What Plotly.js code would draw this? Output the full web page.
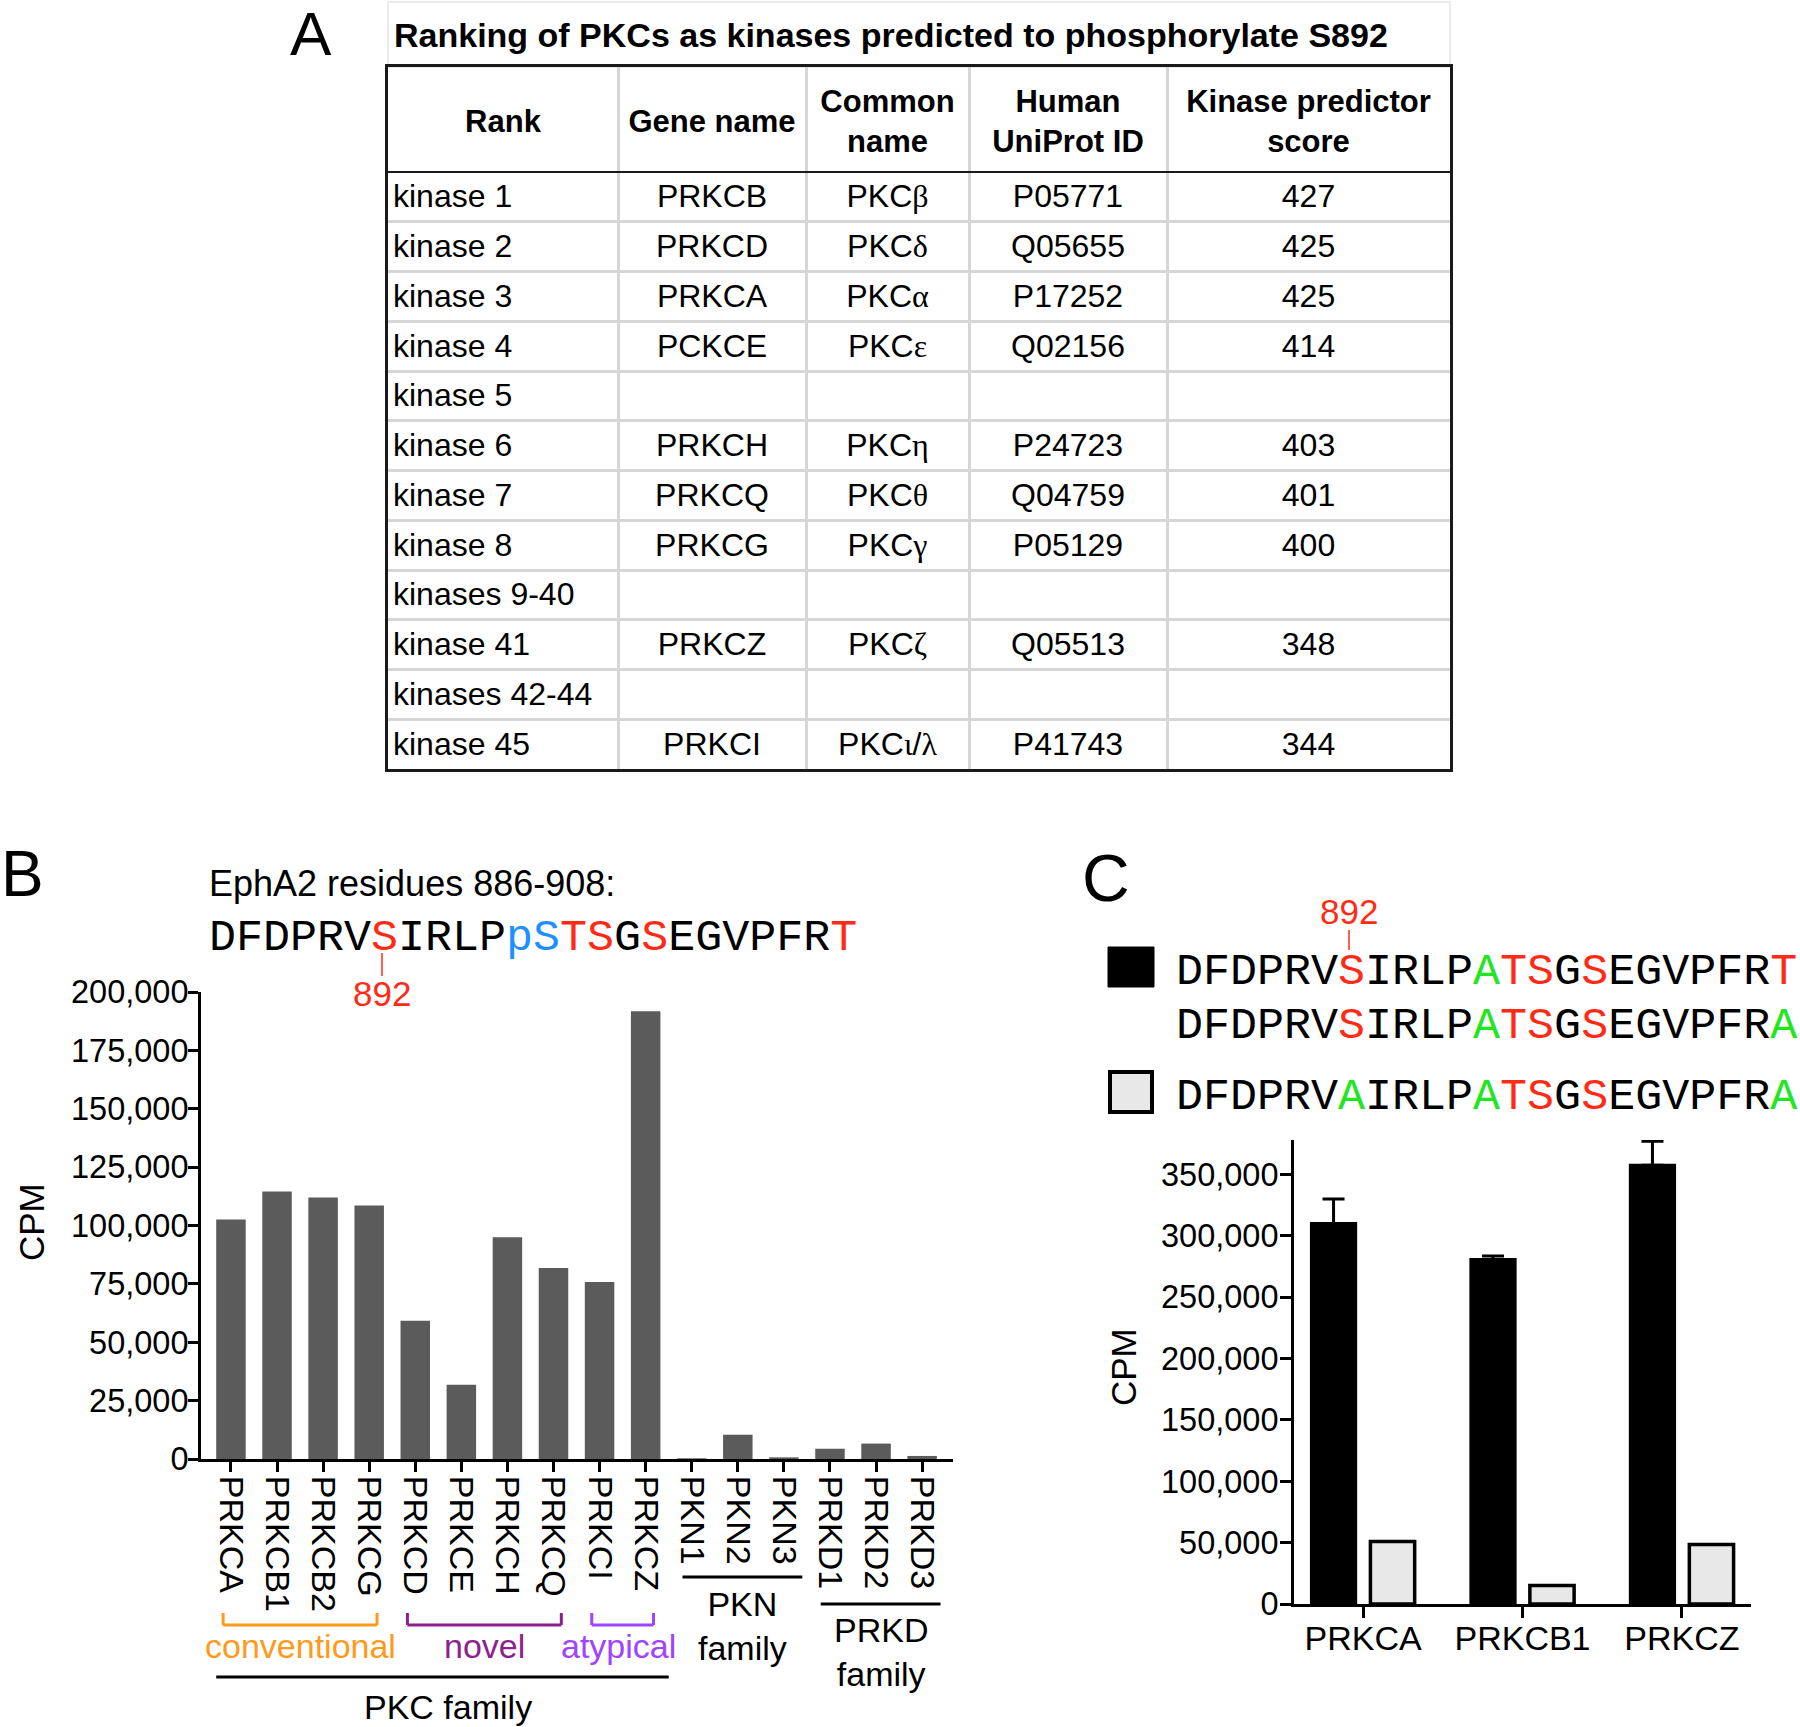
<!DOCTYPE html>
<html><head><meta charset="utf-8">
<script src="https://cdn.plot.ly/plotly-3.0.1.min.js"></script>
<style>html,body{margin:0;padding:0;background:#fff}</style>
</head><body><div id="chart" style="width:1800px;height:1727px"></div>
<script>
// ---------------- DATA ----------------
const tableTitle = 'Ranking of PKCs as kinases predicted to phosphorylate S892';
const tableHeader = ['Rank', 'Gene name', 'Common<br>name', 'Human<br>UniProt ID', 'Kinase predictor<br>score'];
const rankCol = ['kinase 1','kinase 2','kinase 3','kinase 4','kinase 5','kinase 6','kinase 7','kinase 8','kinases 9-40','kinase 41','kinases 42-44','kinase 45'];
const geneCol = ['PRKCB','PRKCD','PRKCA','PCKCE','','PRKCH','PRKCQ','PRKCG','','PRKCZ','','PRKCI'];
const commonCol = ['PKCβ','PKCδ','PKCα','PKCε','','PKCη','PKCθ','PKCγ','','PKCζ','','PKCι/λ'];
const uniprotCol = ['P05771','Q05655','P17252','Q02156','','P24723','Q04759','P05129','','Q05513','','P41743'];
const scoreCol = ['427','425','425','414','','403','401','400','','348','','344'];

const kinasesB = ['PRKCA','PRKCB1','PRKCB2','PRKCG','PRKCD','PRKCE','PRKCH','PRKCQ','PRKCI','PRKCZ','PKN1','PKN2','PKN3','PRKD1','PRKD2','PRKD3'];
const cpmB = [102600,114600,112000,108600,59200,31800,95000,81800,75800,191800,300,10400,700,4400,6600,1300];
const yTicksB = [0,25000,50000,75000,100000,125000,150000,175000,200000];

const kinasesC = ['PRKCA','PRKCB1','PRKCZ'];
const cpmWT = [310000,280600,357500];
const errWT = [20000,2800,19500];
const cpmMut = [51000,15000,48500];
const yTicksC = [0,50000,100000,150000,200000,250000,300000,350000];

const subgroupNames = ['conventional','novel','atypical'];
const subgroupFirst = ['PRKCA','PRKCD','PRKCI'];
const subgroupLast  = ['PRKCG','PRKCQ','PRKCZ'];
const familyNames = ['PKC family','PKN<br>family','PRKD<br>family'];
const familyFirst = ['PRKCA','PKN1','PRKD1'];
const familyLast  = ['PRKCZ','PKN3','PRKD3'];

const seqTitleB = 'EphA2 residues 886-908:';
const seqB   = [['DFDPRV','k'],['S','r'],['IRLP','k'],['pS','b'],['TS','r'],['G','k'],['S','r'],['EGVPFR','k'],['T','r']];
const seqC1  = [['DFDPRV','k'],['S','r'],['IRLP','k'],['A','g'],['TS','r'],['G','k'],['S','r'],['EGVPFR','k'],['T','r']];
const seqC2  = [['DFDPRV','k'],['S','r'],['IRLP','k'],['A','g'],['TS','r'],['G','k'],['S','r'],['EGVPFR','k'],['A','g']];
const seqC3  = [['DFDPRV','k'],['A','g'],['IRLP','k'],['A','g'],['TS','r'],['G','k'],['S','r'],['EGVPFR','k'],['A','g']];
const siteLabel = '892';

// ---------------- STYLE ----------------
const W = 1800, H = 1727;
const SANS = 'Arial, "Liberation Sans", sans-serif';
const MONO = '"Courier New", "Liberation Mono", monospace';
const COL = {k:'#000000', r:'#ff2b16', b:'#1e90ff', g:'#22e622'};
const subgroupColors = ['#ff9a1c','#8e1f8e','#a044ff'];
const PX = x => x / W;
const PY = y => 1 - y / H;

function seqHTML(parts){
  return parts.map(([s,c]) => c === 'k' ? s : `<span style="color:${COL[c]}">${s}</span>`).join('');
}
function greek(t){
  return t.replace(/([\u0370-\u03ff]+)/g, '<span style="font-family:Liberation Serif">$1</span>');
}
function ann(text, x, y, o){
  return Object.assign({text, x:PX(x), y:PY(y), xref:'paper', yref:'paper', showarrow:false,
    xanchor:'center', yanchor:'middle', font:{family:SANS, size:34, color:'#000'}}, o || {});
}

// table geometry (in table-axis units = px)
const colEdges = [0, 230, 418, 581, 779, 1062];
const colCenters = colEdges.slice(0,-1).map((e,i) => (e + colEdges[i+1]) / 2);
const headerRows = 105 / 49.75;
const rowIdx = rankCol.map((_, i) => i + 0.55);

const traces = [];
// Panel A table cells
const tf = {family:SANS, size:32, color:'#000'};
traces.push({type:'scatter', mode:'text', xaxis:'x3', yaxis:'y3', hoverinfo:'skip',
  x: colCenters, y: colCenters.map(() => -headerRows/2 + 0.1), text: tableHeader,
  textposition:'middle center', textfont:{family:SANS, size:31, color:'#000', weight:'bold'}});
traces.push({type:'scatter', mode:'text', xaxis:'x3', yaxis:'y3', hoverinfo:'skip',
  x: rankCol.map(() => 5), y: rowIdx, text: rankCol, textposition:'middle right', textfont:tf});
[geneCol, commonCol.map(greek), uniprotCol, scoreCol].forEach((col, k) => {
  traces.push({type:'scatter', mode:'text', xaxis:'x3', yaxis:'y3', hoverinfo:'skip',
    x: col.map(() => colCenters[k+1]), y: rowIdx, text: col, textposition:'middle center', textfont:tf});
});

// Panel B bars
traces.push({type:'bar', x: kinasesB, y: cpmB, xaxis:'x', yaxis:'y', width:0.64,
  marker:{color:'#5b5b5b', line:{width:0}}, hoverinfo:'x+y'});

// Panel C bars
traces.push({type:'bar', name:'wild type', x: kinasesC, y: cpmWT, xaxis:'x2', yaxis:'y2',
  marker:{color:'#000', line:{color:'#000', width:3}},
  error_y:{type:'data', array: errWT, arrayminus: errWT.map(() => 0), symmetric:false, color:'#000', thickness:3, width:11}});
traces.push({type:'bar', name:'S892A', x: kinasesC, y: cpmMut, xaxis:'x2', yaxis:'y2',
  marker:{color:'#e8e8e8', line:{color:'#000', width:3.5}}});

const axisCommon = {showline:true, linecolor:'#000', linewidth:3, ticks:'outside', tickwidth:3,
  tickcolor:'#000', showgrid:false, zeroline:false, fixedrange:true};

const iB = n => kinasesB.indexOf(n);
const shapes = [];
const annotations = [];

// Table title box
shapes.push({type:'rect', xref:'paper', yref:'paper', x0:PX(388), x1:PX(1450), y0:PY(67), y1:PY(2),
  line:{color:'#ebebeb', width:2}, layer:'below'});
annotations.push(ann(tableTitle, 392, 35, {xanchor:'left', font:{family:SANS, size:34, color:'#000', weight:'bold'}}));

// Panel letters
annotations.push(ann('A', 311, 34, {font:{family:SANS, size:62, color:'#000'}}));
annotations.push(ann('B', 22, 874, {font:{family:SANS, size:64, color:'#000'}}));
annotations.push(ann('C', 1106, 878, {font:{family:SANS, size:66, color:'#000'}}));

// Panel B text
annotations.push(ann(seqTitleB, 207, 883, {xanchor:'left', font:{family:SANS, size:36, color:'#000'}}));
annotations.push(ann(seqHTML(seqB), 207, 938, {xanchor:'left', font:{family:MONO, size:45, color:'#000'}}));
annotations.push(ann(siteLabel, 382, 993, {font:{family:SANS, size:35, color:COL.r}}));
shapes.push({type:'line', xref:'paper', yref:'paper', x0:PX(382), x1:PX(382), y0:PY(953), y1:PY(976), line:{color:COL.r, width:1.5}});
annotations.push(ann('CPM', 31, 1222, {textangle:-90, font:{family:SANS, size:35, color:'#000'}}));

// subgroup brackets
subgroupNames.forEach((nm, k) => {
  const a = iB(subgroupFirst[k]) - 0.17, b = iB(subgroupLast[k]) + 0.17;
  const c = subgroupColors[k];
  const yt = PY(1613), yb = PY(1625);
  shapes.push({type:'line', xref:'x', yref:'paper', x0:a, x1:b, y0:yb, y1:yb, line:{color:c, width:3}});
  shapes.push({type:'line', xref:'x', yref:'paper', x0:a, x1:a, y0:yb, y1:yt, line:{color:c, width:3}});
  shapes.push({type:'line', xref:'x', yref:'paper', x0:b, x1:b, y0:yb, y1:yt, line:{color:c, width:3}});
  annotations.push({text:nm, x:(a+b)/2 - (k === 2 ? 0.08 : 0), xref:'x', y:PY(1646), yref:'paper', showarrow:false,
    xanchor:'center', yanchor:'middle', font:{family:SANS, size:34, color:c}});
});
// family lines
const famY = [1677, 1577, 1604];
const famTextY = [1707, 1626, 1652];
familyNames.forEach((nm, k) => {
  const a = iB(familyFirst[k]) - (k === 0 ? 0.32 : 0.2), b = iB(familyLast[k]) + (k === 0 ? 0.5 : 0.4);
  shapes.push({type:'line', xref:'x', yref:'paper', x0:a, x1:b, y0:PY(famY[k]), y1:PY(famY[k]), line:{color:'#000', width:3}});
  annotations.push({text:nm, x:(a+b)/2 + (k === 0 ? 0.12 : 0), xref:'x', y:PY(famTextY[k]), yref:'paper', showarrow:false,
    xanchor:'center', yanchor:'middle', font:{family:SANS, size:34, color:'#000'}});
});

// Panel C text
annotations.push(ann(siteLabel, 1349, 911, {font:{family:SANS, size:35, color:COL.r}}));
shapes.push({type:'line', xref:'paper', yref:'paper', x0:PX(1349), x1:PX(1349), y0:PY(930), y1:PY(950), line:{color:COL.r, width:1.5}});
annotations.push(ann(seqHTML(seqC1), 1174, 972, {xanchor:'left', font:{family:MONO, size:45, color:'#000'}}));
annotations.push(ann(seqHTML(seqC2), 1174, 1026, {xanchor:'left', font:{family:MONO, size:45, color:'#000'}}));
annotations.push(ann(seqHTML(seqC3), 1174, 1097, {xanchor:'left', font:{family:MONO, size:45, color:'#000'}}));
shapes.push({type:'rect', xref:'paper', yref:'paper', x0:PX(1108), x1:PX(1154), y0:PY(987), y1:PY(947), fillcolor:'#000', line:{color:'#000', width:1}});
shapes.push({type:'rect', xref:'paper', yref:'paper', x0:PX(1110), x1:PX(1152), y0:PY(1112), y1:PY(1072), fillcolor:'#e8e8e8', line:{color:'#000', width:4}});
annotations.push(ann('CPM', 1123, 1367, {textangle:-90, font:{family:SANS, size:35, color:'#000'}}));

const layout = {
  width: W, height: H, margin:{l:0, r:0, t:0, b:0}, paper_bgcolor:'#fff', plot_bgcolor:'rgba(0,0,0,0)',
  showlegend:false, barmode:'group', bargap:0.26, bargroupgap:0.25,
  font:{family:SANS, color:'#000'},
  xaxis: Object.assign({}, axisCommon, {domain:[PX(201), PX(953)], anchor:'y', type:'category',
    categoryorder:'array', categoryarray:kinasesB, range:[-0.65, 15.67], ticklen:10, ticklabelstandoff:-3,
    tickangle:90, tickfont:{family:SANS, size:34, color:'#000'}}),
  yaxis: Object.assign({}, axisCommon, {domain:[PY(1459), PY(992)], anchor:'x', range:[0, 200000],
    tickvals:yTicksB, tickformat:',d', ticklen:10, ticklabelstandoff:-7, tickfont:{family:SANS, size:32.5, color:'#000'}}),
  xaxis2: Object.assign({}, axisCommon, {domain:[PX(1294), PX(1751)], anchor:'y2', type:'category',
    categoryorder:'array', categoryarray:kinasesC, range:[-0.433, 2.433], ticklen:11, ticklabelstandoff:-9,
    tickfont:{family:SANS, size:34, color:'#000'}}),
  yaxis2: Object.assign({}, axisCommon, {domain:[PY(1604), PY(1140)], anchor:'x2', range:[0, 378000],
    tickvals:yTicksC, tickformat:',d', ticklen:11, ticklabelstandoff:-5, tickfont:{family:SANS, size:32.5, color:'#000'}}),
  xaxis3: {domain:[PX(388), PX(1450)], anchor:'y3', range:[colEdges[0], colEdges[colEdges.length-1]],
    tickvals:colEdges.slice(1,-1), showticklabels:false, ticks:'', showgrid:true, gridcolor:'#d6d6d6', gridwidth:3,
    zeroline:false, showline:true, mirror:true, linecolor:'#1a1a1a', linewidth:3, fixedrange:true},
  yaxis3: {domain:[PY(769), PY(67)], anchor:'x3', range:[rankCol.length, -headerRows],
    tickvals:rankCol.slice(1).map((_, i) => i + 1), showticklabels:false, ticks:'', showgrid:true,
    gridcolor:'#d6d6d6', gridwidth:3, zeroline:true, zerolinecolor:'#1a1a1a', zerolinewidth:2.5,
    showline:true, mirror:true, linecolor:'#1a1a1a', linewidth:3, fixedrange:true},
  shapes, annotations
};

Plotly.newPlot('chart', traces, layout, {displayModeBar:false, staticPlot:true});
</script></body></html>
